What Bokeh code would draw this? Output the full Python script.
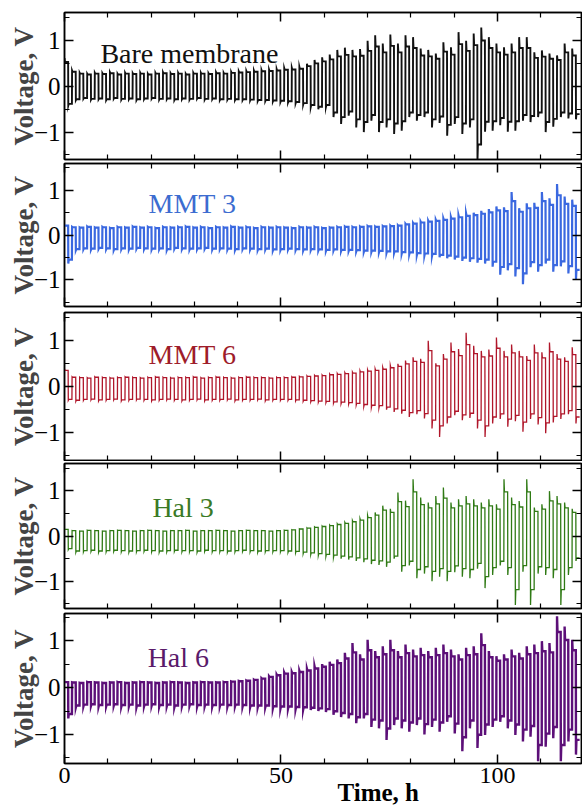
from bokeh.plotting import figure
from bokeh.layouts import column
from bokeh.models import Range1d, LinearAxis, FixedTicker, Label, Title
from bokeh.embed import file_html
from bokeh.resources import INLINE

# ---------------- data ----------------
cycle_h = 1.75  # oscillation period, hours

time_ticks = [0, 50, 100]
time_minor = [10, 20, 30, 40, 60, 70, 80, 90, 110]
volt_ticks = [-1, 0, 1]
volt_minor = [-1.5, -0.5, 0.5, 1.5]

bare_hi = [0.62, 0.35, 0.30, 0.28, 0.30, 0.29, 0.31, 0.28, 0.30, 0.29,
           0.30, 0.28, 0.30, 0.31, 0.29, 0.30, 0.28, 0.30, 0.30, 0.29,
           0.31, 0.30, 0.32, 0.33, 0.34, 0.35, 0.36, 0.37, 0.38, 0.40,
           0.41, 0.43, 0.50, 0.58, 0.64, 0.70, 0.80, 0.85, 0.80, 0.82,
           1.00, 1.12, 0.94, 1.14, 0.94, 1.12, 1.08, 0.83, 0.80, 0.72,
           0.97, 0.86, 1.19, 1.00, 1.16, 1.29, 1.08, 0.94, 0.86, 0.94,
           1.08, 1.08, 0.75, 0.79, 0.72, 0.68, 0.94, 0.83]
bare_lo = [-0.42, -0.30, -0.27, -0.29, -0.28, -0.30, -0.27, -0.29, -0.28, -0.30,
           -0.28, -0.27, -0.29, -0.28, -0.30, -0.28, -0.29, -0.27, -0.29, -0.28,
           -0.30, -0.29, -0.30, -0.30, -0.31, -0.32, -0.32, -0.33, -0.34, -0.35,
           -0.37, -0.40, -0.45, -0.50, -0.45, -0.67, -0.82, -0.64, -0.90, -1.00,
           -0.75, -1.00, -0.90, -1.04, -0.97, -0.67, -0.75, -0.67, -0.90, -0.80,
           -1.08, -0.82, -1.04, -0.90, -1.63, -0.99, -0.97, -0.85, -0.99, -0.97,
           -0.75, -0.78, -0.67, -1.00, -0.88, -0.67, -0.70, -0.72]

mmt3_hi = [0.22, 0.18, 0.17, 0.19, 0.17, 0.18, 0.16, 0.18, 0.17, 0.19,
           0.17, 0.18, 0.16, 0.18, 0.17, 0.18, 0.19, 0.17, 0.18, 0.16,
           0.18, 0.17, 0.19, 0.17, 0.18, 0.16, 0.18, 0.17, 0.18, 0.17,
           0.16, 0.18, 0.17, 0.18, 0.16, 0.17, 0.18, 0.19, 0.18, 0.19,
           0.20, 0.19, 0.20, 0.21, 0.22, 0.25, 0.27, 0.30, 0.32, 0.34,
           0.37, 0.40, 0.44, 0.48, 0.50, 0.54, 0.58, 0.64, 0.62, 0.96,
           0.60, 0.71, 0.72, 0.96, 0.82, 1.14, 0.86, 0.79]
mmt3_lo = [-0.64, -0.34, -0.32, -0.33, -0.31, -0.32, -0.34, -0.32, -0.33, -0.31,
           -0.32, -0.33, -0.32, -0.34, -0.31, -0.32, -0.33, -0.32, -0.31, -0.33,
           -0.32, -0.33, -0.34, -0.32, -0.33, -0.34, -0.33, -0.35, -0.34, -0.33,
           -0.34, -0.35, -0.34, -0.35, -0.36, -0.35, -0.36, -0.36, -0.37, -0.38,
           -0.38, -0.39, -0.40, -0.40, -0.42, -0.43, -0.45, -0.46, -0.47, -0.50,
           -0.52, -0.55, -0.58, -0.60, -0.62, -0.64, -0.71, -0.89, -0.79, -0.93,
           -1.10, -0.72, -0.82, -0.64, -0.82, -0.70, -0.86, -1.00]

mmt6_hi = [0.38, 0.21, 0.20, 0.19, 0.21, 0.20, 0.19, 0.20, 0.21, 0.20,
           0.19, 0.20, 0.21, 0.20, 0.19, 0.20, 0.20, 0.21, 0.19, 0.20,
           0.21, 0.20, 0.19, 0.20, 0.21, 0.20, 0.20, 0.19, 0.20, 0.20,
           0.21, 0.22, 0.23, 0.24, 0.25, 0.27, 0.28, 0.30, 0.31, 0.34,
           0.36, 0.38, 0.41, 0.45, 0.49, 0.56, 0.63, 0.60, 0.99, 0.50,
           0.70, 0.95, 0.81, 1.16, 0.88, 0.77, 0.80, 1.06, 0.77, 0.91,
           0.77, 0.66, 0.91, 0.74, 0.95, 0.70, 0.63, 0.85]
mmt6_lo = [-0.30, -0.32, -0.30, -0.29, -0.31, -0.30, -0.29, -0.31, -0.30, -0.29,
           -0.30, -0.31, -0.30, -0.29, -0.30, -0.31, -0.30, -0.29, -0.31, -0.30,
           -0.30, -0.29, -0.31, -0.30, -0.30, -0.29, -0.31, -0.30, -0.30, -0.30,
           -0.31, -0.32, -0.33, -0.34, -0.35, -0.36, -0.37, -0.38, -0.40, -0.43,
           -0.45, -0.46, -0.50, -0.55, -0.59, -0.66, -0.60, -0.69, -0.91, -1.09,
           -0.80, -0.62, -0.73, -0.68, -0.91, -1.09, -0.80, -0.70, -0.87, -0.75,
           -0.98, -0.70, -0.82, -1.01, -0.78, -0.70, -0.60, -0.80]

hal3_hi = [0.15, 0.12, 0.11, 0.13, 0.12, 0.11, 0.12, 0.13, 0.12, 0.11,
           0.12, 0.13, 0.12, 0.11, 0.12, 0.12, 0.13, 0.11, 0.12, 0.12,
           0.13, 0.12, 0.11, 0.12, 0.13, 0.12, 0.12, 0.11, 0.12, 0.13,
           0.14, 0.16, 0.18, 0.20, 0.22, 0.24, 0.27, 0.30, 0.34, 0.38,
           0.45, 0.52, 0.67, 0.60, 0.96, 0.78, 1.25, 0.85, 0.74, 0.88,
           1.07, 0.74, 0.81, 0.88, 0.81, 0.74, 0.81, 0.70, 1.25, 0.85,
           0.77, 1.25, 0.63, 0.70, 0.99, 0.88, 0.74, 0.60]
hal3_lo = [-0.30, -0.36, -0.35, -0.34, -0.36, -0.35, -0.34, -0.35, -0.36, -0.35,
           -0.34, -0.35, -0.36, -0.35, -0.34, -0.35, -0.35, -0.36, -0.34, -0.35,
           -0.35, -0.36, -0.35, -0.34, -0.35, -0.36, -0.35, -0.35, -0.35, -0.36,
           -0.37, -0.39, -0.41, -0.43, -0.45, -0.47, -0.50, -0.52, -0.55, -0.58,
           -0.62, -0.64, -0.68, -0.50, -0.79, -0.65, -0.93, -0.83, -1.00, -0.90,
           -1.00, -0.80, -0.90, -0.93, -0.72, -1.15, -0.86, -0.65, -0.86, -1.52,
           -0.79, -1.52, -0.83, -0.86, -0.93, -1.52, -0.86, -0.55]

hal6_hi = [0.12, 0.11, 0.10, 0.12, 0.11, 0.10, 0.11, 0.12, 0.10, 0.11,
           0.12, 0.11, 0.10, 0.11, 0.12, 0.11, 0.10, 0.11, 0.12, 0.11,
           0.11, 0.12, 0.13, 0.14, 0.15, 0.17, 0.20, 0.24, 0.28, 0.32,
           0.33, 0.36, 0.40, 0.45, 0.50, 0.55, 0.60, 0.74, 0.95, 0.71,
           1.02, 0.78, 0.88, 1.02, 0.78, 0.92, 0.81, 0.85, 0.78, 0.85,
           0.92, 0.81, 0.71, 0.85, 0.88, 1.16, 0.78, 0.67, 0.71, 0.81,
           0.74, 0.88, 0.92, 0.99, 0.95, 1.52, 1.30, 1.02]
hal6_lo = [-0.66, -0.42, -0.40, -0.39, -0.41, -0.40, -0.39, -0.41, -0.40, -0.42,
           -0.40, -0.39, -0.41, -0.40, -0.42, -0.40, -0.39, -0.41, -0.40, -0.41,
           -0.40, -0.41, -0.40, -0.41, -0.42, -0.42, -0.42, -0.44, -0.45, -0.45,
           -0.46, -0.47, -0.48, -0.50, -0.52, -0.58, -0.63, -0.66, -0.76, -0.66,
           -0.84, -0.87, -1.12, -0.80, -0.87, -0.94, -0.80, -1.00, -0.84, -0.94,
           -0.73, -0.98, -1.36, -0.87, -1.29, -1.01, -0.84, -0.73, -0.87, -1.01,
           -1.15, -1.05, -1.57, -1.26, -1.08, -1.57, -1.15, -1.43]

panel_names = ["Bare membrane", "MMT 3", "MMT 6", "Hal 3", "Hal 6"]
panel_hi = [bare_hi, mmt3_hi, mmt6_hi, hal3_hi, hal6_hi]
panel_lo = [bare_lo, mmt3_lo, mmt6_lo, hal3_lo, hal6_lo]

# ---------------- styling ----------------
line_colors = ["#111111", "#3a68e0", "#b0162a", "#2f7a14", "#5c0f78"]
text_colors = ["#111111", "#3c6cd0", "#9e1c2a", "#3a7a26", "#5a1a6a"]
line_widths = [1.9, 2.2, 1.3, 1.3, 2.4]
y_ranges = [(-1.6, 1.62), (-1.6, 1.6), (-1.6, 1.6), (-1.6, 1.6), (-1.62, 1.58)]
fig_heights = [161, 148, 152, 149, 200]
border_top = [12, 2, 3, 2, 3]
border_bottom = [2, 3, 1, 2, 47]
label_x = [8.3, 19.4, 19.4, 20.3, 19.2]
label_y = [0.72, 0.71, 0.69, 0.62, 0.65]

SERIF = "Liberation Serif"


def waveform(hi, lo):
    xs, ys = [], []
    for k, (h, l) in enumerate(zip(hi, lo)):
        t0 = k * cycle_h
        hp = h * (1 - 0.22 * min(1.0, abs(h)))
        lp = l * (1 - 0.22 * min(1.0, abs(l)))
        xs += [t0, t0 + 0.06 * cycle_h, t0 + 0.48 * cycle_h,
               t0 + 0.5 * cycle_h, t0 + 0.56 * cycle_h, t0 + 0.98 * cycle_h]
        ys += [h, hp, hp, l, lp, lp]
    return xs, ys


def style_axis(ax, show_labels):
    ax.major_tick_in = 9
    ax.major_tick_out = 0
    ax.minor_tick_in = 5
    ax.minor_tick_out = 0
    ax.axis_line_width = 1.5
    ax.axis_line_color = "black"
    ax.major_tick_line_width = 1.5
    ax.minor_tick_line_width = 1.2
    ax.major_tick_line_color = "black"
    ax.minor_tick_line_color = "black"
    ax.major_label_text_font = SERIF
    ax.major_label_text_color = "black"
    if show_labels:
        ax.major_label_text_font_size = "25px"
        ax.major_label_standoff = 4
    else:
        ax.major_label_text_font_size = "0px"
        ax.major_label_standoff = 0
        ax.major_label_text_alpha = 0


figs = []
for i in range(5):
    last = (i == 4)
    p = figure(width=582, height=fig_heights[i],
               x_range=Range1d(0, 119.4), y_range=Range1d(*y_ranges[i]),
               x_axis_location=None, y_axis_location=None,
               toolbar_location=None, output_backend="svg",
               min_border_left=64, min_border_right=1,
               min_border_top=border_top[i], min_border_bottom=border_bottom[i])
    p.grid.visible = False
    p.outline_line_color = "black"
    p.outline_line_width = 1.5
    p.background_fill_color = "white"
    p.border_fill_color = "white"

    left = LinearAxis(ticker=FixedTicker(ticks=volt_ticks, minor_ticks=volt_minor))
    style_axis(left, True)
    left.axis_label = "Voltage, V"
    left.axis_label_text_font = SERIF
    left.axis_label_text_font_style = "bold"
    left.axis_label_text_font_size = "27px"
    left.axis_label_standoff = -8
    p.add_layout(left, "left")

    right = LinearAxis(ticker=FixedTicker(ticks=volt_ticks, minor_ticks=volt_minor))
    style_axis(right, False)
    p.add_layout(right, "right")

    top = LinearAxis(ticker=FixedTicker(ticks=time_ticks, minor_ticks=time_minor))
    style_axis(top, False)
    p.add_layout(top, "above")

    bottom = LinearAxis(ticker=FixedTicker(ticks=time_ticks, minor_ticks=time_minor))
    style_axis(bottom, last)
    if last:
        bottom.major_label_text_font_size = "24px"
        bottom.major_label_standoff = 4
    p.add_layout(bottom, "below")

    if last:
        p.add_layout(Title(text="Time, h", align="left", offset=273, standoff=-17,
                           text_font=SERIF, text_font_size="25px",
                           text_font_style="bold", text_color="black"), "below")

    xs, ys = waveform(panel_hi[i], panel_lo[i])
    p.line(xs, ys, line_color=line_colors[i], line_width=line_widths[i],
           line_join="miter")

    p.add_layout(Label(x=label_x[i], y=label_y[i], text=panel_names[i],
                       text_font=SERIF, text_font_size="28px",
                       text_color=text_colors[i], text_baseline="alphabetic"))
    figs.append(p)

layout = column(*figs, spacing=0)
open("out.html", "w").write(file_html(layout, INLINE))
